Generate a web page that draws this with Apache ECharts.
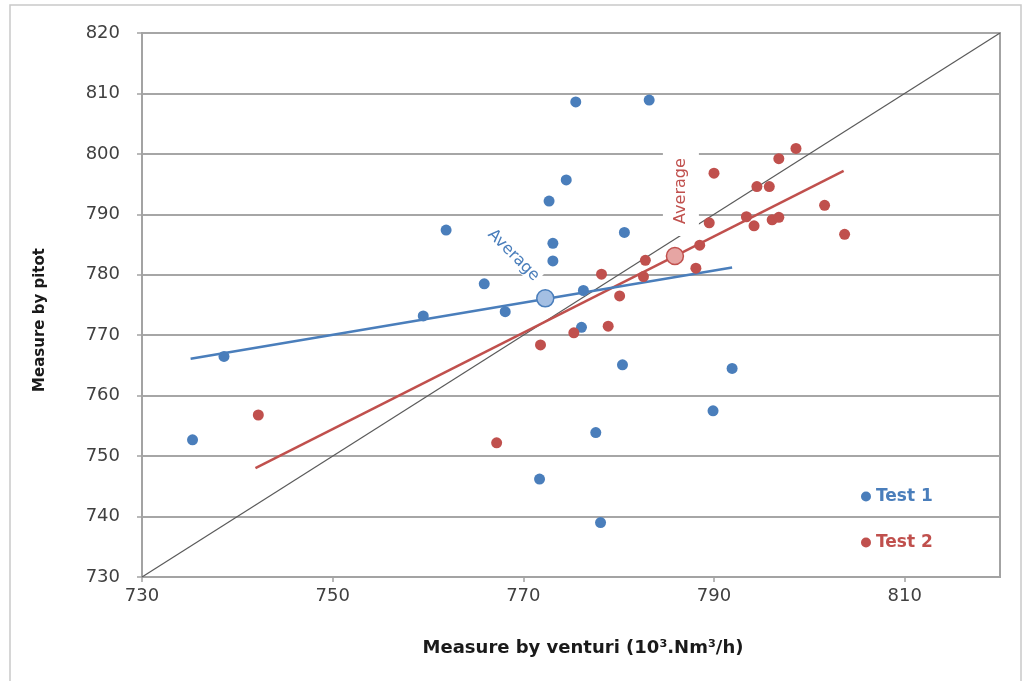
<!DOCTYPE html>
<html>
<head>
<meta charset="utf-8">
<script src="https://cdn.jsdelivr.net/npm/echarts@6/dist/echarts.min.js"></script>
<style>
  html, body { margin: 0; padding: 0; background: #ffffff; }
  #chart { width: 1029px; height: 681px; }
</style>
</head>
<body>
<div id="chart"></div>
<script>
// Flow measured by venturi (x) against pitot (y), in 10^3 Nm3/h
const test1X = [735.3, 738.6, 759.5, 761.9, 765.9, 768.1, 771.7, 772.7, 773.1, 773.1, 774.5,
                775.5, 776.1, 776.3, 777.6, 778.1, 780.4, 780.6, 783.2, 789.9, 791.9];
const test1Y = [752.7, 766.5, 773.2, 787.4, 778.5, 773.9, 746.2, 792.2, 785.2, 782.3, 795.7,
                808.6, 771.3, 777.4, 753.9, 739.0, 765.1, 787.0, 808.9, 757.5, 764.5];

const test2X = [742.2, 767.2, 771.8, 775.3, 778.2, 778.9, 780.1, 782.6, 782.8, 788.1, 788.5, 789.5,
                790.0, 793.4, 794.2, 794.5, 795.8, 796.1, 796.8, 796.8, 798.6, 801.6, 803.7];
const test2Y = [756.8, 752.2, 768.4, 770.4, 780.1, 771.5, 776.5, 779.7, 782.4, 781.1, 784.9, 788.6,
                796.8, 789.6, 788.1, 794.6, 794.6, 789.1, 789.5, 799.2, 800.9, 791.5, 786.7];

// Average point of each test
const avg1 = [772.3, 776.1];
const avg2 = [785.9, 783.1];

// Trend line end points of each test
const fit1X = [735.1, 791.9];
const fit1Y = [766.1, 781.2];
const fit2X = [741.9, 803.6];
const fit2Y = [748.0, 797.2];

// Line of equality
const equalX = [730, 820];
const equalY = [730, 820];

const xTickValues = [730, 750, 770, 790, 810];
const axisMin = 730;
const axisMax = 820;

const BLUE = '#4a7ebb';
const RED = '#c0504d';

const pairs = (xs, ys) => xs.map((x, i) => [x, ys[i]]);

const chart = echarts.init(document.getElementById('chart'), null, { renderer: 'canvas' });

const titleFont = { fontFamily: 'DejaVu Sans', fontWeight: 'bold', color: '#1a1a1a' };

chart.setOption({
  animation: false,
  backgroundColor: '#ffffff',
  graphic: [{
    type: 'rect',
    shape: { x: 10, y: 5, width: 1011, height: 700 },
    style: { fill: 'none', stroke: '#c9c9c9', lineWidth: 1.5 },
    silent: true
  }],
  grid: {
    left: 142, right: 29, top: 33, bottom: 104,
    show: true, borderColor: '#a3a3a3', borderWidth: 2, backgroundColor: 'transparent'
  },
  legend: {
    orient: 'vertical',
    left: 856, top: 483,
    icon: 'circle',
    itemWidth: 10, itemHeight: 10,
    itemGap: 29,
    textStyle: { fontFamily: 'DejaVu Sans', fontWeight: 'bold', fontSize: 17 },
    data: [
      { name: 'Test 1', textStyle: { color: BLUE } },
      { name: 'Test 2', textStyle: { color: RED } }
    ]
  },
  xAxis: {
    type: 'value',
    min: axisMin, max: axisMax,
    name: 'Measure by venturi (10³.Nm³/h)',
    nameLocation: 'middle',
    nameGap: 62,
    nameTextStyle: Object.assign({ fontSize: 18, padding: [0, 0, 0, 24] }, titleFont),
    axisLine: { show: true, lineStyle: { color: '#a3a3a3', width: 2 } },
    axisTick: { show: true, length: 5, customValues: xTickValues, lineStyle: { color: '#a3a3a3', width: 1.5 } },
    axisLabel: { customValues: xTickValues, margin: 10, fontFamily: 'DejaVu Sans', fontSize: 18, color: '#404040' },
    splitLine: { show: false }
  },
  yAxis: {
    type: 'value',
    min: axisMin, max: axisMax, interval: 10,
    name: 'Measure by pitot',
    nameLocation: 'middle',
    nameGap: 94,
    nameRotate: 90,
    nameTextStyle: Object.assign({ fontSize: 15, padding: [0, 30, 0, 0] }, titleFont),
    axisLine: { show: true, lineStyle: { color: '#a3a3a3', width: 2 } },
    axisTick: { show: true, length: 5, lineStyle: { color: '#a3a3a3', width: 1.5 } },
    axisLabel: { margin: 22, fontFamily: 'DejaVu Sans', fontSize: 18, color: '#404040' },
    splitLine: { show: true, lineStyle: { color: '#a6a6a6', width: 2 } }
  },
  series: [
    {
      name: 'Equality', type: 'line', silent: true, z: 2,
      data: pairs(equalX, equalY), showSymbol: false,
      lineStyle: { color: '#5a5a5a', width: 1.2 }
    },
    {
      name: 'Trend 2', type: 'line', silent: true, z: 3,
      data: pairs(fit2X, fit2Y), showSymbol: false,
      lineStyle: { color: RED, width: 2.5 }
    },
    {
      name: 'Trend 1', type: 'line', silent: true, z: 3,
      data: pairs(fit1X, fit1Y), showSymbol: false,
      lineStyle: { color: BLUE, width: 2.5 }
    },
    {
      name: 'Test 1', type: 'scatter', z: 4,
      data: pairs(test1X, test1Y), symbolSize: 11,
      itemStyle: { color: BLUE, opacity: 1 }
    },
    {
      name: 'Test 2', type: 'scatter', z: 4,
      data: pairs(test2X, test2Y), symbolSize: 11,
      itemStyle: { color: RED, opacity: 1 }
    },
    {
      name: 'Average 1', type: 'scatter', z: 5,
      data: [avg1], symbolSize: 17,
      itemStyle: { color: '#a4bfe3', borderColor: BLUE, borderWidth: 1.5, opacity: 1 },
      label: {
        show: true, formatter: 'Average', position: 'inside',
        offset: [-53, -8], rotate: -45,
        fontFamily: 'DejaVu Sans', fontSize: 16, color: BLUE,
        backgroundColor: '#ffffff', padding: [0, 2]
      }
    },
    {
      name: 'Average 2', type: 'scatter', z: 5,
      data: [avg2], symbolSize: 17,
      itemStyle: { color: '#e6a5a3', borderColor: RED, borderWidth: 1.5, opacity: 1 },
      label: {
        show: true, formatter: 'Average', position: 'inside',
        offset: [65, 6], rotate: 90,
        fontFamily: 'DejaVu Sans', fontSize: 16, color: RED,
        backgroundColor: '#ffffff', padding: [10, 12]
      }
    }
  ]
});
</script>
</body>
</html>
